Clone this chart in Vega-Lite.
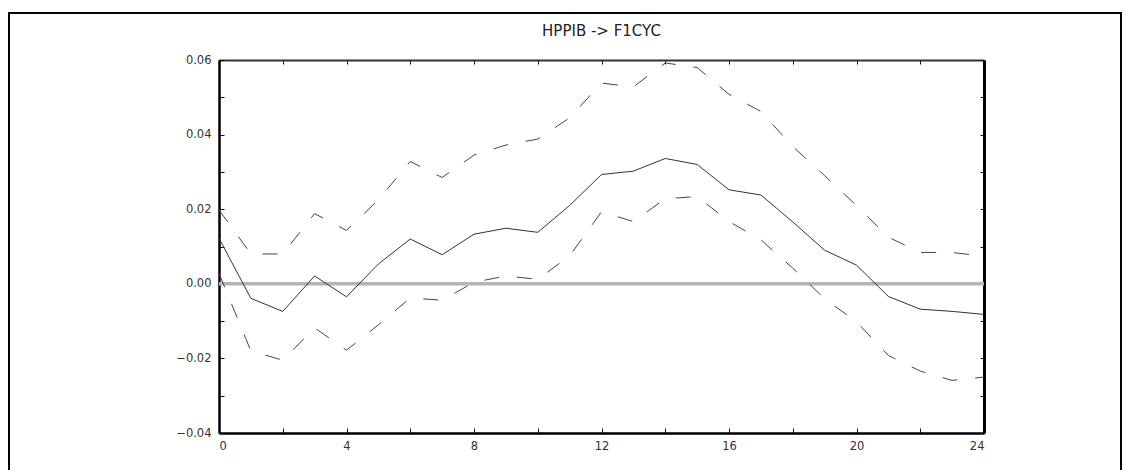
{
  "$schema": "https://vega.github.io/schema/vega-lite/v6.json",
  "autosize": "none",
  "width": 765,
  "height": 373,
  "padding": {"left": 219, "top": 60, "right": 146, "bottom": 37},
  "background": "white",
  "title": {"text": "HPPIB -> F1CYC", "font": "DejaVu Sans", "fontSize": 15, "fontWeight": "normal", "color": "#222", "offset": -27, "anchor": "middle", "frame": "group"},
  "config": {"view": {"stroke": null}, "axis": {"grid": false, "labelFont": "DejaVu Sans", "labelFontSize": 11.5, "labelColor": "#333", "tickColor": "#111", "tickSize": -5, "tickWidth": 1, "domainColor": "#000", "domainWidth": 2.5, "title": null, "labelOverlap": false}},
  "data": {"values": [
    {"h": 0, "irf": 0.0122, "hi": 0.0198, "lo": 0.0028},
    {"h": 1, "irf": -0.0039, "hi": 0.0080, "lo": -0.0180},
    {"h": 2, "irf": -0.0074, "hi": 0.0080, "lo": -0.0205},
    {"h": 3, "irf": 0.0021, "hi": 0.0188, "lo": -0.0118},
    {"h": 4, "irf": -0.0035, "hi": 0.0143, "lo": -0.0178},
    {"h": 5, "irf": 0.0053, "hi": 0.0225, "lo": -0.0110},
    {"h": 6, "irf": 0.0120, "hi": 0.0328, "lo": -0.0038},
    {"h": 7, "irf": 0.0078, "hi": 0.0285, "lo": -0.0044},
    {"h": 8, "irf": 0.0133, "hi": 0.0345, "lo": 0.0004},
    {"h": 9, "irf": 0.0149, "hi": 0.0372, "lo": 0.0021},
    {"h": 10, "irf": 0.0138, "hi": 0.0388, "lo": 0.0012},
    {"h": 11, "irf": 0.0210, "hi": 0.0445, "lo": 0.0075},
    {"h": 12, "irf": 0.0293, "hi": 0.0538, "lo": 0.0193},
    {"h": 13, "irf": 0.0302, "hi": 0.0528, "lo": 0.0167},
    {"h": 14, "irf": 0.0336, "hi": 0.0592, "lo": 0.0228},
    {"h": 15, "irf": 0.0320, "hi": 0.0580, "lo": 0.0234},
    {"h": 16, "irf": 0.0252, "hi": 0.0508, "lo": 0.0167},
    {"h": 17, "irf": 0.0238, "hi": 0.0462, "lo": 0.0118},
    {"h": 18, "irf": 0.0166, "hi": 0.0368, "lo": 0.0042},
    {"h": 19, "irf": 0.0090, "hi": 0.0290, "lo": -0.0040},
    {"h": 20, "irf": 0.0050, "hi": 0.0210, "lo": -0.0102},
    {"h": 21, "irf": -0.0034, "hi": 0.0125, "lo": -0.0192},
    {"h": 22, "irf": -0.0068, "hi": 0.0084, "lo": -0.0234},
    {"h": 23, "irf": -0.0074, "hi": 0.0084, "lo": -0.0259},
    {"h": 24, "irf": -0.0082, "hi": 0.0074, "lo": -0.0250}
  ]},
  "resolve": {"axis": {"x": "independent", "y": "independent"}},
  "layer": [
    {
      "mark": {"type": "rule", "color": "#b4b4b4", "strokeWidth": 3.5},
      "data": {"values": [{}]},
      "encoding": {
        "y": {"datum": 0, "type": "quantitative", "scale": {"domain": [-0.04, 0.06]}, "axis": null}
      }
    },
    {
      "mark": {"type": "line", "color": "#333", "strokeWidth": 1},
      "encoding": {
        "x": {"field": "h", "type": "quantitative", "scale": {"domain": [0, 24], "nice": false, "zero": false},
              "axis": {"orient": "bottom", "values": [0, 2, 4, 6, 8, 10, 12, 14, 16, 18, 20, 22, 24], "labelExpr": "datum.value % 4 == 0 ? datum.label : ''", "labelPadding": 12}},
        "y": {"field": "irf", "type": "quantitative", "scale": {"domain": [-0.04, 0.06], "nice": false, "zero": false},
              "axis": {"orient": "left", "values": [-0.04, -0.03, -0.02, -0.01, 0, 0.01, 0.02, 0.03, 0.04, 0.05, 0.06], "format": ".2f", "labelExpr": "round(datum.value * 100) % 2 == 0 ? datum.label : ''", "labelPadding": 13}}
      }
    },
    {
      "mark": {"type": "line", "color": "#444", "strokeWidth": 1, "strokeDash": [15, 18]},
      "encoding": {
        "x": {"field": "h", "type": "quantitative", "axis": {"orient": "top", "values": [0, 2, 4, 6, 8, 10, 12, 14, 16, 18, 20, 22, 24], "labels": false, "domainColor": "#333", "domainWidth": 2, "tickSize": -4}},
        "y": {"field": "hi", "type": "quantitative", "axis": {"orient": "right", "values": [-0.04, -0.03, -0.02, -0.01, 0, 0.01, 0.02, 0.03, 0.04, 0.05, 0.06], "labels": false, "domainWidth": 3, "tickSize": -4}}
      }
    },
    {
      "mark": {"type": "line", "color": "#444", "strokeWidth": 1, "strokeDash": [15, 18]},
      "encoding": {
        "x": {"field": "h", "type": "quantitative", "axis": null},
        "y": {"field": "lo", "type": "quantitative", "axis": null}
      }
    },
    {
      "mark": {"type": "rect", "fill": null, "stroke": "#000", "strokeWidth": 2, "clip": false},
      "data": {"values": [{}]},
      "encoding": {
        "x": {"datum": -6.588, "type": "quantitative", "axis": null},
        "x2": {"datum": 28.298},
        "y": {"datum": 0.0726, "type": "quantitative", "axis": null},
        "y2": {"datum": -0.0526}
      }
    }
  ]
}
